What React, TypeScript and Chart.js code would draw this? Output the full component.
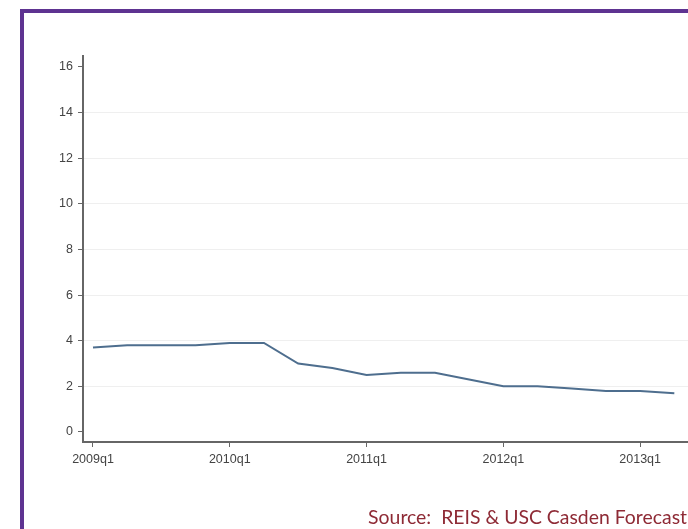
import React, { useEffect, useRef } from "react";
import { Chart, registerables } from "chart.js";

Chart.register(...registerables);

const quarters = [
  "2009q1", "2009q2", "2009q3", "2009q4",
  "2010q1", "2010q2", "2010q3", "2010q4",
  "2011q1", "2011q2", "2011q3", "2011q4",
  "2012q1", "2012q2", "2012q3", "2012q4",
  "2013q1", "2013q2",
];
const vacancy = [3.7, 3.8, 3.8, 3.8, 3.9, 3.9, 3.0, 2.8, 2.5, 2.6, 2.6, 2.3, 2.0, 2.0, 1.9, 1.8, 1.8, 1.7];
const xTickLabels = ["2009q1", "2010q1", "2011q1", "2012q1", "2013q1"];
const yTickValues = [0, 2, 4, 6, 8, 10, 12, 14, 16];
const sourceText = "Source:  REIS & USC Casden Forecast";

const AXIS = "#666666";
const TICKFONT = { family: "'Liberation Sans', Arial, sans-serif", size: 12.5 };

export default function App() {
  const ref = useRef<HTMLCanvasElement | null>(null);

  useEffect(() => {
    if (!ref.current) return;
    const chart = new Chart(ref.current, {
      type: "line",
      data: {
        datasets: [
          {
            data: vacancy.map((v, i) => ({ x: i, y: v })),
            borderColor: "#4e6e8e",
            borderWidth: 2,
            pointRadius: 0,
            tension: 0,
            fill: false,
          },
        ],
      },
      options: {
        animation: false,
        responsive: false,
        maintainAspectRatio: false,
        layout: { padding: { top: 56, right: 0, left: 0, bottom: 47 } },
        plugins: { legend: { display: false }, tooltip: { enabled: false }, title: { display: false } },
        scales: {
          x: {
            type: "linear",
            min: -0.292,
            max: 17.4,
            afterBuildTicks: (s: any) => {
              s.ticks = xTickLabels.map((l) => ({ value: quarters.indexOf(l) }));
            },
            afterFit: (s: any) => {
              s.height = 40;
            },
            ticks: {
              autoSkip: false,
              maxRotation: 0,
              padding: 5,
              color: "#444",
              font: TICKFONT,
              callback: (v: any) => quarters[Math.round(Number(v))] ?? "",
            },
            grid: { drawOnChartArea: false, tickColor: AXIS, tickLength: 5, tickWidth: 1 },
            border: { display: true, color: AXIS, width: 2 },
          },
          y: {
            type: "linear",
            min: -0.44,
            max: 16.48,
            afterBuildTicks: (s: any) => {
              s.ticks = yTickValues.map((v) => ({ value: v }));
            },
            afterFit: (s: any) => {
              s.width = 83;
            },
            ticks: {
              padding: 5,
              color: "#444",
              font: TICKFONT,
            },
            grid: {
              color: (ctx: any) =>
                ctx.tick && ctx.tick.value > 0 && ctx.tick.value < 16 ? "#efefef" : "rgba(0,0,0,0)",
              tickColor: AXIS,
              tickLength: 5,
              tickWidth: 1,
              lineWidth: 1,
            },
            border: { display: true, color: AXIS, width: 2 },
          },
        },
      },
    } as any);
    return () => chart.destroy();
  }, []);

  return (
    <div
      style={{
        position: "fixed",
        left: 0,
        top: 0,
        width: 688,
        height: 529,
        background: "#ffffff",
        overflow: "hidden",
      }}
    >
      <div
        style={{
          position: "absolute",
          left: 20,
          top: 9,
          right: -20,
          bottom: -20,
          borderLeft: "4px solid #5e3391",
          borderTop: "4px solid #5e3391",
        }}
      />
      <canvas
        ref={ref}
        width={688}
        height={529}
        style={{ position: "absolute", left: 0, top: 0, width: 688, height: 529 }}
      />
      <div
        style={{
          position: "absolute",
          right: 1,
          top: 505,
          whiteSpace: "pre",
          fontFamily: "Lato, 'Open Sans', sans-serif",
          fontSize: 19.4,
          lineHeight: "24px",
          color: "#8e2a35",
        }}
      >
        {sourceText}
      </div>
    </div>
  );
}
